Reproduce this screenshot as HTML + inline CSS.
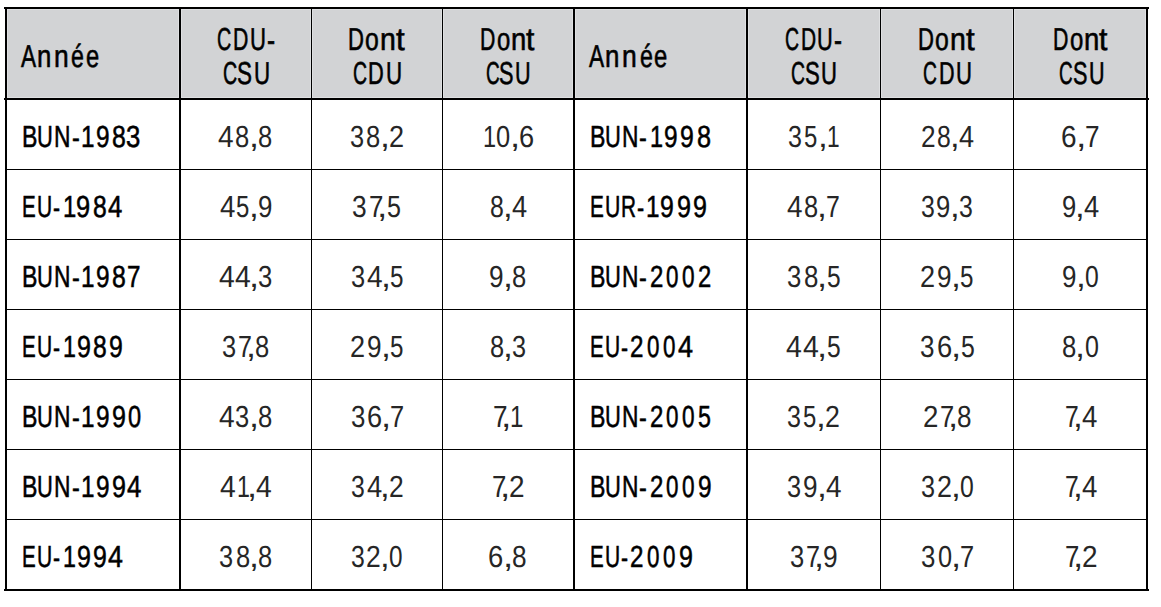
<!DOCTYPE html>
<html><head><meta charset="utf-8"><style>
html,body{margin:0;padding:0;background:#fff;width:1161px;height:607px;overflow:hidden}
body{position:relative;font-family:"Liberation Sans",sans-serif;color:#000;text-rendering:geometricPrecision}
.l{position:absolute;background:#000}
.hb{position:absolute;background:#d2d3d5}
.hl{position:absolute;background:#dfe0e2}
.t,.g{position:absolute;white-space:nowrap;line-height:40px;height:40px;transform-origin:0 0}
.lab{font-size:30.5px;-webkit-text-stroke:0.55px #000}
.num{font-size:30.5px;color:#262626}
.h{font-size:31.7px;-webkit-text-stroke:0.6px #000}
</style></head><body>
<div class="hb" style="left:7px;top:9px;width:1139px;height:89px"></div>
<div class="hl" style="left:7px;top:9px;width:1139px;height:1px"></div>
<div class="hl" style="left:7px;top:97px;width:1139px;height:1px"></div>
<div class="hl" style="left:7px;top:9px;width:1px;height:89px"></div>
<div class="hl" style="left:178px;top:9px;width:1px;height:89px"></div>
<div class="hl" style="left:181px;top:9px;width:1px;height:89px"></div>
<div class="hl" style="left:310px;top:9px;width:1px;height:89px"></div>
<div class="hl" style="left:312px;top:9px;width:1px;height:89px"></div>
<div class="hl" style="left:441px;top:9px;width:1px;height:89px"></div>
<div class="hl" style="left:443px;top:9px;width:1px;height:89px"></div>
<div class="hl" style="left:572px;top:9px;width:1px;height:89px"></div>
<div class="hl" style="left:575px;top:9px;width:1px;height:89px"></div>
<div class="hl" style="left:745px;top:9px;width:1px;height:89px"></div>
<div class="hl" style="left:748px;top:9px;width:1px;height:89px"></div>
<div class="hl" style="left:879px;top:9px;width:1px;height:89px"></div>
<div class="hl" style="left:881px;top:9px;width:1px;height:89px"></div>
<div class="hl" style="left:1012px;top:9px;width:1px;height:89px"></div>
<div class="hl" style="left:1014px;top:9px;width:1px;height:89px"></div>
<div class="hl" style="left:1145px;top:9px;width:1px;height:89px"></div>
<div class="l" style="left:4px;top:7px;width:1145px;height:2px"></div>
<div class="l" style="left:4px;top:98px;width:1145px;height:2px"></div>
<div class="l" style="left:5px;top:169px;width:1143px;height:1px"></div>
<div class="l" style="left:5px;top:239px;width:1143px;height:1px"></div>
<div class="l" style="left:5px;top:309px;width:1143px;height:1px"></div>
<div class="l" style="left:5px;top:379px;width:1143px;height:1px"></div>
<div class="l" style="left:5px;top:449px;width:1143px;height:1px"></div>
<div class="l" style="left:5px;top:519px;width:1143px;height:1px"></div>
<div class="l" style="left:4px;top:589px;width:1145px;height:2px"></div>
<div class="l" style="left:5px;top:9px;width:2px;height:580px"></div>
<div class="l" style="left:179px;top:9px;width:2px;height:580px"></div>
<div class="l" style="left:311px;top:9px;width:1px;height:580px"></div>
<div class="l" style="left:442px;top:9px;width:1px;height:580px"></div>
<div class="l" style="left:573px;top:9px;width:2px;height:580px"></div>
<div class="l" style="left:746px;top:9px;width:2px;height:580px"></div>
<div class="l" style="left:880px;top:9px;width:1px;height:580px"></div>
<div class="l" style="left:1013px;top:9px;width:1px;height:580px"></div>
<div class="l" style="left:1146px;top:9px;width:2px;height:580px"></div>
<div class="g h" style="left:21.23px;top:36.00px;transform:scaleX(0.7127)">A</div>
<div class="g h" style="left:37.21px;top:36.00px;transform:scaleX(0.8135)">n</div>
<div class="g h" style="left:53.63px;top:36.00px;transform:scaleX(0.8344)">n</div>
<div class="g h" style="left:71.41px;top:36.00px;transform:scaleX(0.7310)">é</div>
<div class="g h" style="left:86.15px;top:36.00px;transform:scaleX(0.7495)">e</div>
<div class="g h" style="left:217.29px;top:19.00px;transform:scaleX(0.6229)">C</div>
<div class="g h" style="left:233.02px;top:19.00px;transform:scaleX(0.6705)">D</div>
<div class="g h" style="left:249.53px;top:19.00px;transform:scaleX(0.6980)">U</div>
<div class="g h" style="left:267.11px;top:20.00px;transform:scaleX(0.7680)">-</div>
<div class="g h" style="left:222.89px;top:53.00px;transform:scaleX(0.6191)">C</div>
<div class="g h" style="left:237.10px;top:53.00px;transform:scaleX(0.7076)">S</div>
<div class="g h" style="left:253.76px;top:53.00px;transform:scaleX(0.7046)">U</div>
<div class="g h" style="left:348.13px;top:19.00px;transform:scaleX(0.6965)">D</div>
<div class="g h" style="left:365.15px;top:19.00px;transform:scaleX(0.7811)">o</div>
<div class="g h" style="left:380.12px;top:19.00px;transform:scaleX(0.8981)">n</div>
<div class="g h" style="left:396.02px;top:19.00px;transform:scaleX(0.9837)">t</div>
<div class="g h" style="left:352.59px;top:53.00px;transform:scaleX(0.6147)">C</div>
<div class="g h" style="left:368.45px;top:53.00px;transform:scaleX(0.6872)">D</div>
<div class="g h" style="left:386.25px;top:53.00px;transform:scaleX(0.7049)">U</div>
<div class="g h" style="left:480.28px;top:19.00px;transform:scaleX(0.6702)">D</div>
<div class="g h" style="left:496.65px;top:19.00px;transform:scaleX(0.7516)">o</div>
<div class="g h" style="left:511.06px;top:19.00px;transform:scaleX(0.8642)">n</div>
<div class="g h" style="left:526.36px;top:19.00px;transform:scaleX(0.9464)">t</div>
<div class="g h" style="left:485.61px;top:53.00px;transform:scaleX(0.5985)">C</div>
<div class="g h" style="left:499.35px;top:53.00px;transform:scaleX(0.6841)">S</div>
<div class="g h" style="left:515.45px;top:53.00px;transform:scaleX(0.6812)">U</div>
<div class="g h" style="left:589.33px;top:36.00px;transform:scaleX(0.7145)">A</div>
<div class="g h" style="left:605.35px;top:36.00px;transform:scaleX(0.8156)">n</div>
<div class="g h" style="left:621.82px;top:36.00px;transform:scaleX(0.8365)">n</div>
<div class="g h" style="left:639.64px;top:36.00px;transform:scaleX(0.7328)">é</div>
<div class="g h" style="left:654.42px;top:36.00px;transform:scaleX(0.7515)">e</div>
<div class="g h" style="left:785.20px;top:19.00px;transform:scaleX(0.6141)">C</div>
<div class="g h" style="left:800.71px;top:19.00px;transform:scaleX(0.6611)">D</div>
<div class="g h" style="left:816.99px;top:19.00px;transform:scaleX(0.6882)">U</div>
<div class="g h" style="left:834.32px;top:20.00px;transform:scaleX(0.7572)">-</div>
<div class="g h" style="left:790.60px;top:53.00px;transform:scaleX(0.6109)">C</div>
<div class="g h" style="left:804.62px;top:53.00px;transform:scaleX(0.6982)">S</div>
<div class="g h" style="left:821.06px;top:53.00px;transform:scaleX(0.6953)">U</div>
<div class="g h" style="left:918.13px;top:19.00px;transform:scaleX(0.6965)">D</div>
<div class="g h" style="left:935.15px;top:19.00px;transform:scaleX(0.7811)">o</div>
<div class="g h" style="left:950.12px;top:19.00px;transform:scaleX(0.8981)">n</div>
<div class="g h" style="left:966.02px;top:19.00px;transform:scaleX(0.9837)">t</div>
<div class="g h" style="left:923.10px;top:53.00px;transform:scaleX(0.6083)">C</div>
<div class="g h" style="left:938.79px;top:53.00px;transform:scaleX(0.6800)">D</div>
<div class="g h" style="left:956.41px;top:53.00px;transform:scaleX(0.6975)">U</div>
<div class="g h" style="left:1053.18px;top:19.00px;transform:scaleX(0.6727)">D</div>
<div class="g h" style="left:1069.61px;top:19.00px;transform:scaleX(0.7544)">o</div>
<div class="g h" style="left:1084.07px;top:19.00px;transform:scaleX(0.8674)">n</div>
<div class="g h" style="left:1099.43px;top:19.00px;transform:scaleX(0.9500)">t</div>
<div class="g h" style="left:1058.81px;top:53.00px;transform:scaleX(0.5971)">C</div>
<div class="g h" style="left:1072.52px;top:53.00px;transform:scaleX(0.6825)">S</div>
<div class="g h" style="left:1088.58px;top:53.00px;transform:scaleX(0.6796)">U</div>
<div class="g lab" style="left:21.71px;top:117.00px;transform:scaleX(0.7577)">B</div>
<div class="g lab" style="left:37.47px;top:117.00px;transform:scaleX(0.7182)">U</div>
<div class="g lab" style="left:54.04px;top:117.00px;transform:scaleX(0.7466)">N</div>
<div class="g lab" style="left:71.59px;top:118.00px;transform:scaleX(0.7680)">-</div>
<div class="g lab" style="left:81.48px;top:117.00px;transform:scaleX(0.7973)">1</div>
<div class="g lab" style="left:95.94px;top:117.00px;transform:scaleX(0.8002)">9</div>
<div class="g lab" style="left:111.86px;top:117.00px;transform:scaleX(0.8149)">8</div>
<div class="g lab" style="left:125.88px;top:117.00px;transform:scaleX(0.8445)">3</div>
<div class="g num" style="left:218.32px;top:117.00px;transform:scaleX(0.9201)">4</div>
<div class="g num" style="left:235.03px;top:117.00px;transform:scaleX(0.8390)">8</div>
<div class="g num" style="left:248.62px;top:117.00px;transform:scaleX(1.1757)">,</div>
<div class="g num" style="left:258.06px;top:117.00px;transform:scaleX(0.8390)">8</div>
<div class="g num" style="left:349.55px;top:117.00px;transform:scaleX(0.8324)">3</div>
<div class="g num" style="left:366.10px;top:117.00px;transform:scaleX(0.8374)">8</div>
<div class="g num" style="left:379.66px;top:117.00px;transform:scaleX(1.1734)">,</div>
<div class="g num" style="left:388.59px;top:117.00px;transform:scaleX(0.8887)">2</div>
<div class="g num" style="left:482.57px;top:117.00px;transform:scaleX(0.7694)">1</div>
<div class="g num" style="left:495.83px;top:117.00px;transform:scaleX(0.8338)">0</div>
<div class="g num" style="left:509.51px;top:117.00px;transform:scaleX(1.1966)">,</div>
<div class="g num" style="left:518.70px;top:117.00px;transform:scaleX(0.8924)">6</div>
<div class="g lab" style="left:589.61px;top:117.00px;transform:scaleX(0.7577)">B</div>
<div class="g lab" style="left:605.37px;top:117.00px;transform:scaleX(0.7182)">U</div>
<div class="g lab" style="left:621.94px;top:117.00px;transform:scaleX(0.7466)">N</div>
<div class="g lab" style="left:639.49px;top:118.00px;transform:scaleX(0.7680)">-</div>
<div class="g lab" style="left:649.64px;top:117.00px;transform:scaleX(0.7691)">1</div>
<div class="g lab" style="left:663.64px;top:117.00px;transform:scaleX(0.8002)">9</div>
<div class="g lab" style="left:679.92px;top:117.00px;transform:scaleX(0.8134)">9</div>
<div class="g lab" style="left:696.55px;top:117.00px;transform:scaleX(0.8281)">8</div>
<div class="g num" style="left:787.96px;top:117.00px;transform:scaleX(0.8223)">3</div>
<div class="g num" style="left:804.42px;top:117.00px;transform:scaleX(0.7837)">5</div>
<div class="g num" style="left:817.71px;top:117.00px;transform:scaleX(1.1592)">,</div>
<div class="g num" style="left:826.65px;top:117.00px;transform:scaleX(0.7453)">1</div>
<div class="g num" style="left:920.52px;top:117.00px;transform:scaleX(0.8601)">2</div>
<div class="g num" style="left:936.81px;top:117.00px;transform:scaleX(0.8105)">8</div>
<div class="g num" style="left:949.93px;top:117.00px;transform:scaleX(1.1357)">,</div>
<div class="g num" style="left:958.71px;top:117.00px;transform:scaleX(0.8889)">4</div>
<div class="g num" style="left:1060.90px;top:117.00px;transform:scaleX(0.9172)">6</div>
<div class="g num" style="left:1075.53px;top:117.00px;transform:scaleX(1.2298)">,</div>
<div class="g num" style="left:1084.76px;top:117.00px;transform:scaleX(0.8579)">7</div>
<div class="g lab" style="left:21.88px;top:187.00px;transform:scaleX(0.6750)">E</div>
<div class="g lab" style="left:36.83px;top:187.00px;transform:scaleX(0.6881)">U</div>
<div class="g lab" style="left:52.86px;top:188.00px;transform:scaleX(0.6960)">-</div>
<div class="g lab" style="left:62.51px;top:187.00px;transform:scaleX(0.7832)">1</div>
<div class="g lab" style="left:76.41px;top:187.00px;transform:scaleX(0.8332)">9</div>
<div class="g lab" style="left:93.36px;top:187.00px;transform:scaleX(0.8084)">8</div>
<div class="g lab" style="left:108.21px;top:187.00px;transform:scaleX(0.8429)">4</div>
<div class="g num" style="left:219.53px;top:187.00px;transform:scaleX(0.9079)">4</div>
<div class="g num" style="left:236.12px;top:187.00px;transform:scaleX(0.7842)">5</div>
<div class="g num" style="left:249.42px;top:187.00px;transform:scaleX(1.1600)">,</div>
<div class="g num" style="left:258.34px;top:187.00px;transform:scaleX(0.8472)">9</div>
<div class="g num" style="left:352.20px;top:187.00px;transform:scaleX(0.8639)">3</div>
<div class="g num" style="left:368.75px;top:187.00px;transform:scaleX(0.8494)">7</div>
<div class="g num" style="left:376.92px;top:187.00px;transform:scaleX(1.2178)">,</div>
<div class="g num" style="left:386.80px;top:187.00px;transform:scaleX(0.8233)">5</div>
<div class="g num" style="left:489.69px;top:187.00px;transform:scaleX(0.8154)">8</div>
<div class="g num" style="left:502.89px;top:187.00px;transform:scaleX(1.1425)">,</div>
<div class="g num" style="left:511.73px;top:187.00px;transform:scaleX(0.8942)">4</div>
<div class="g lab" style="left:589.77px;top:187.00px;transform:scaleX(0.6807)">E</div>
<div class="g lab" style="left:605.06px;top:187.00px;transform:scaleX(0.6963)">U</div>
<div class="g lab" style="left:620.77px;top:187.00px;transform:scaleX(0.6808)">R</div>
<div class="g lab" style="left:636.74px;top:188.00px;transform:scaleX(0.7080)">-</div>
<div class="g lab" style="left:645.58px;top:187.00px;transform:scaleX(0.7973)">1</div>
<div class="g lab" style="left:660.12px;top:187.00px;transform:scaleX(0.8134)">9</div>
<div class="g lab" style="left:676.71px;top:187.00px;transform:scaleX(0.8266)">9</div>
<div class="g lab" style="left:693.12px;top:187.00px;transform:scaleX(0.8200)">9</div>
<div class="g num" style="left:787.33px;top:187.00px;transform:scaleX(0.9148)">4</div>
<div class="g num" style="left:803.94px;top:187.00px;transform:scaleX(0.8341)">8</div>
<div class="g num" style="left:817.44px;top:187.00px;transform:scaleX(1.1688)">,</div>
<div class="g num" style="left:826.22px;top:187.00px;transform:scaleX(0.8153)">7</div>
<div class="g num" style="left:920.68px;top:187.00px;transform:scaleX(0.8146)">3</div>
<div class="g num" style="left:936.48px;top:187.00px;transform:scaleX(0.8387)">9</div>
<div class="g num" style="left:950.14px;top:187.00px;transform:scaleX(1.1483)">,</div>
<div class="g num" style="left:959.15px;top:187.00px;transform:scaleX(0.8146)">3</div>
<div class="g num" style="left:1061.70px;top:187.00px;transform:scaleX(0.8367)">9</div>
<div class="g num" style="left:1075.33px;top:187.00px;transform:scaleX(1.1457)">,</div>
<div class="g num" style="left:1084.19px;top:187.00px;transform:scaleX(0.8967)">4</div>
<div class="g lab" style="left:21.71px;top:257.00px;transform:scaleX(0.7577)">B</div>
<div class="g lab" style="left:37.47px;top:257.00px;transform:scaleX(0.7182)">U</div>
<div class="g lab" style="left:54.04px;top:257.00px;transform:scaleX(0.7466)">N</div>
<div class="g lab" style="left:71.59px;top:258.00px;transform:scaleX(0.7680)">-</div>
<div class="g lab" style="left:81.48px;top:257.00px;transform:scaleX(0.7973)">1</div>
<div class="g lab" style="left:95.94px;top:257.00px;transform:scaleX(0.8002)">9</div>
<div class="g lab" style="left:111.86px;top:257.00px;transform:scaleX(0.8149)">8</div>
<div class="g lab" style="left:126.93px;top:257.00px;transform:scaleX(0.7948)">7</div>
<div class="g num" style="left:218.52px;top:257.00px;transform:scaleX(0.9290)">4</div>
<div class="g num" style="left:235.04px;top:257.00px;transform:scaleX(0.9290)">4</div>
<div class="g num" style="left:249.10px;top:257.00px;transform:scaleX(1.1869)">,</div>
<div class="g num" style="left:258.41px;top:257.00px;transform:scaleX(0.8420)">3</div>
<div class="g num" style="left:350.65px;top:257.00px;transform:scaleX(0.8341)">3</div>
<div class="g num" style="left:366.89px;top:257.00px;transform:scaleX(0.9202)">4</div>
<div class="g num" style="left:380.82px;top:257.00px;transform:scaleX(1.1757)">,</div>
<div class="g num" style="left:390.36px;top:257.00px;transform:scaleX(0.7948)">5</div>
<div class="g num" style="left:488.57px;top:257.00px;transform:scaleX(0.8578)">9</div>
<div class="g num" style="left:502.54px;top:257.00px;transform:scaleX(1.1745)">,</div>
<div class="g num" style="left:511.97px;top:257.00px;transform:scaleX(0.8382)">8</div>
<div class="g lab" style="left:589.61px;top:257.00px;transform:scaleX(0.7577)">B</div>
<div class="g lab" style="left:605.37px;top:257.00px;transform:scaleX(0.7182)">U</div>
<div class="g lab" style="left:621.94px;top:257.00px;transform:scaleX(0.7466)">N</div>
<div class="g lab" style="left:639.49px;top:258.00px;transform:scaleX(0.7680)">-</div>
<div class="g lab" style="left:649.54px;top:257.00px;transform:scaleX(0.7880)">2</div>
<div class="g lab" style="left:665.89px;top:257.00px;transform:scaleX(0.7343)">0</div>
<div class="g lab" style="left:681.99px;top:257.00px;transform:scaleX(0.7408)">0</div>
<div class="g lab" style="left:697.55px;top:257.00px;transform:scaleX(0.7814)">2</div>
<div class="g num" style="left:786.73px;top:257.00px;transform:scaleX(0.8438)">3</div>
<div class="g num" style="left:803.51px;top:257.00px;transform:scaleX(0.8489)">8</div>
<div class="g num" style="left:817.26px;top:257.00px;transform:scaleX(1.1895)">,</div>
<div class="g num" style="left:826.91px;top:257.00px;transform:scaleX(0.8042)">5</div>
<div class="g num" style="left:920.47px;top:257.00px;transform:scaleX(0.8887)">2</div>
<div class="g num" style="left:936.90px;top:257.00px;transform:scaleX(0.8570)">9</div>
<div class="g num" style="left:950.86px;top:257.00px;transform:scaleX(1.1734)">,</div>
<div class="g num" style="left:960.38px;top:257.00px;transform:scaleX(0.7933)">5</div>
<div class="g num" style="left:1061.68px;top:257.00px;transform:scaleX(0.8493)">9</div>
<div class="g num" style="left:1075.51px;top:257.00px;transform:scaleX(1.1629)">,</div>
<div class="g num" style="left:1084.99px;top:257.00px;transform:scaleX(0.8103)">0</div>
<div class="g lab" style="left:21.88px;top:327.00px;transform:scaleX(0.6750)">E</div>
<div class="g lab" style="left:36.83px;top:327.00px;transform:scaleX(0.6881)">U</div>
<div class="g lab" style="left:52.86px;top:328.00px;transform:scaleX(0.6960)">-</div>
<div class="g lab" style="left:62.65px;top:327.00px;transform:scaleX(0.7620)">1</div>
<div class="g lab" style="left:76.82px;top:327.00px;transform:scaleX(0.8200)">9</div>
<div class="g lab" style="left:93.06px;top:327.00px;transform:scaleX(0.8084)">8</div>
<div class="g lab" style="left:108.62px;top:327.00px;transform:scaleX(0.8134)">9</div>
<div class="g num" style="left:222.05px;top:327.00px;transform:scaleX(0.8342)">3</div>
<div class="g num" style="left:238.02px;top:327.00px;transform:scaleX(0.8202)">7</div>
<div class="g num" style="left:245.91px;top:327.00px;transform:scaleX(1.1758)">,</div>
<div class="g num" style="left:255.35px;top:327.00px;transform:scaleX(0.8392)">8</div>
<div class="g num" style="left:350.47px;top:327.00px;transform:scaleX(0.8887)">2</div>
<div class="g num" style="left:366.90px;top:327.00px;transform:scaleX(0.8570)">9</div>
<div class="g num" style="left:380.86px;top:327.00px;transform:scaleX(1.1734)">,</div>
<div class="g num" style="left:390.38px;top:327.00px;transform:scaleX(0.7933)">5</div>
<div class="g num" style="left:489.67px;top:327.00px;transform:scaleX(0.8335)">8</div>
<div class="g num" style="left:503.17px;top:327.00px;transform:scaleX(1.1679)">,</div>
<div class="g num" style="left:512.32px;top:327.00px;transform:scaleX(0.8285)">3</div>
<div class="g lab" style="left:589.78px;top:327.00px;transform:scaleX(0.6750)">E</div>
<div class="g lab" style="left:604.73px;top:327.00px;transform:scaleX(0.6881)">U</div>
<div class="g lab" style="left:620.76px;top:328.00px;transform:scaleX(0.6960)">-</div>
<div class="g lab" style="left:630.24px;top:327.00px;transform:scaleX(0.7946)">2</div>
<div class="g lab" style="left:647.09px;top:327.00px;transform:scaleX(0.7343)">0</div>
<div class="g lab" style="left:663.19px;top:327.00px;transform:scaleX(0.7343)">0</div>
<div class="g lab" style="left:678.31px;top:327.00px;transform:scaleX(0.8854)">4</div>
<div class="g num" style="left:786.41px;top:327.00px;transform:scaleX(0.9343)">4</div>
<div class="g num" style="left:803.03px;top:327.00px;transform:scaleX(0.9343)">4</div>
<div class="g num" style="left:817.17px;top:327.00px;transform:scaleX(1.1938)">,</div>
<div class="g num" style="left:826.86px;top:327.00px;transform:scaleX(0.8071)">5</div>
<div class="g num" style="left:920.02px;top:327.00px;transform:scaleX(0.8536)">3</div>
<div class="g num" style="left:936.58px;top:327.00px;transform:scaleX(0.8974)">6</div>
<div class="g num" style="left:950.89px;top:327.00px;transform:scaleX(1.2032)">,</div>
<div class="g num" style="left:960.66px;top:327.00px;transform:scaleX(0.8135)">5</div>
<div class="g num" style="left:1061.56px;top:327.00px;transform:scaleX(0.8418)">8</div>
<div class="g num" style="left:1075.19px;top:327.00px;transform:scaleX(1.1795)">,</div>
<div class="g num" style="left:1084.80px;top:327.00px;transform:scaleX(0.8219)">0</div>
<div class="g lab" style="left:21.71px;top:397.00px;transform:scaleX(0.7577)">B</div>
<div class="g lab" style="left:37.47px;top:397.00px;transform:scaleX(0.7182)">U</div>
<div class="g lab" style="left:54.04px;top:397.00px;transform:scaleX(0.7466)">N</div>
<div class="g lab" style="left:71.59px;top:398.00px;transform:scaleX(0.7680)">-</div>
<div class="g lab" style="left:81.48px;top:397.00px;transform:scaleX(0.7973)">1</div>
<div class="g lab" style="left:95.94px;top:397.00px;transform:scaleX(0.8002)">9</div>
<div class="g lab" style="left:111.82px;top:397.00px;transform:scaleX(0.8200)">9</div>
<div class="g lab" style="left:128.06px;top:397.00px;transform:scaleX(0.7733)">0</div>
<div class="g num" style="left:218.52px;top:397.00px;transform:scaleX(0.9237)">4</div>
<div class="g num" style="left:235.07px;top:397.00px;transform:scaleX(0.8372)">3</div>
<div class="g num" style="left:248.93px;top:397.00px;transform:scaleX(1.1801)">,</div>
<div class="g num" style="left:258.40px;top:397.00px;transform:scaleX(0.8422)">8</div>
<div class="g num" style="left:350.63px;top:397.00px;transform:scaleX(0.8473)">3</div>
<div class="g num" style="left:367.07px;top:397.00px;transform:scaleX(0.8907)">6</div>
<div class="g num" style="left:381.28px;top:397.00px;transform:scaleX(1.1944)">,</div>
<div class="g num" style="left:390.24px;top:397.00px;transform:scaleX(0.8331)">7</div>
<div class="g num" style="left:492.60px;top:397.00px;transform:scaleX(0.8553)">7</div>
<div class="g num" style="left:500.83px;top:397.00px;transform:scaleX(1.2262)">,</div>
<div class="g num" style="left:510.28px;top:397.00px;transform:scaleX(0.7884)">1</div>
<div class="g lab" style="left:589.61px;top:397.00px;transform:scaleX(0.7577)">B</div>
<div class="g lab" style="left:605.37px;top:397.00px;transform:scaleX(0.7182)">U</div>
<div class="g lab" style="left:621.94px;top:397.00px;transform:scaleX(0.7466)">N</div>
<div class="g lab" style="left:639.49px;top:398.00px;transform:scaleX(0.7680)">-</div>
<div class="g lab" style="left:649.54px;top:397.00px;transform:scaleX(0.7880)">2</div>
<div class="g lab" style="left:665.89px;top:397.00px;transform:scaleX(0.7343)">0</div>
<div class="g lab" style="left:681.99px;top:397.00px;transform:scaleX(0.7408)">0</div>
<div class="g lab" style="left:698.11px;top:397.00px;transform:scaleX(0.7606)">5</div>
<div class="g num" style="left:786.77px;top:397.00px;transform:scaleX(0.8211)">3</div>
<div class="g num" style="left:803.20px;top:397.00px;transform:scaleX(0.7825)">5</div>
<div class="g num" style="left:816.47px;top:397.00px;transform:scaleX(1.1575)">,</div>
<div class="g num" style="left:825.27px;top:397.00px;transform:scaleX(0.8766)">2</div>
<div class="g num" style="left:922.94px;top:397.00px;transform:scaleX(0.9081)">2</div>
<div class="g num" style="left:939.52px;top:397.00px;transform:scaleX(0.8364)">7</div>
<div class="g num" style="left:947.56px;top:397.00px;transform:scaleX(1.1990)">,</div>
<div class="g num" style="left:957.19px;top:397.00px;transform:scaleX(0.8557)">8</div>
<div class="g num" style="left:1064.77px;top:397.00px;transform:scaleX(0.8086)">7</div>
<div class="g num" style="left:1072.55px;top:397.00px;transform:scaleX(1.1591)">,</div>
<div class="g num" style="left:1081.52px;top:397.00px;transform:scaleX(0.9072)">4</div>
<div class="g lab" style="left:21.71px;top:467.00px;transform:scaleX(0.7577)">B</div>
<div class="g lab" style="left:37.47px;top:467.00px;transform:scaleX(0.7182)">U</div>
<div class="g lab" style="left:54.04px;top:467.00px;transform:scaleX(0.7466)">N</div>
<div class="g lab" style="left:71.59px;top:468.00px;transform:scaleX(0.7680)">-</div>
<div class="g lab" style="left:81.48px;top:467.00px;transform:scaleX(0.7973)">1</div>
<div class="g lab" style="left:95.94px;top:467.00px;transform:scaleX(0.8002)">9</div>
<div class="g lab" style="left:111.82px;top:467.00px;transform:scaleX(0.8200)">9</div>
<div class="g lab" style="left:127.11px;top:467.00px;transform:scaleX(0.8490)">4</div>
<div class="g num" style="left:220.42px;top:467.00px;transform:scaleX(0.9285)">4</div>
<div class="g num" style="left:236.91px;top:467.00px;transform:scaleX(0.7628)">1</div>
<div class="g num" style="left:247.10px;top:467.00px;transform:scaleX(1.1864)">,</div>
<div class="g num" style="left:256.27px;top:467.00px;transform:scaleX(0.9285)">4</div>
<div class="g num" style="left:350.68px;top:467.00px;transform:scaleX(0.8130)">3</div>
<div class="g num" style="left:366.51px;top:467.00px;transform:scaleX(0.8970)">4</div>
<div class="g num" style="left:380.09px;top:467.00px;transform:scaleX(1.1461)">,</div>
<div class="g num" style="left:388.81px;top:467.00px;transform:scaleX(0.8680)">2</div>
<div class="g num" style="left:491.62px;top:467.00px;transform:scaleX(0.8446)">7</div>
<div class="g num" style="left:499.74px;top:467.00px;transform:scaleX(1.2107)">,</div>
<div class="g num" style="left:508.95px;top:467.00px;transform:scaleX(0.9170)">2</div>
<div class="g lab" style="left:589.61px;top:467.00px;transform:scaleX(0.7577)">B</div>
<div class="g lab" style="left:605.37px;top:467.00px;transform:scaleX(0.7182)">U</div>
<div class="g lab" style="left:621.94px;top:467.00px;transform:scaleX(0.7466)">N</div>
<div class="g lab" style="left:639.49px;top:468.00px;transform:scaleX(0.7680)">-</div>
<div class="g lab" style="left:649.54px;top:467.00px;transform:scaleX(0.7880)">2</div>
<div class="g lab" style="left:665.89px;top:467.00px;transform:scaleX(0.7343)">0</div>
<div class="g lab" style="left:681.99px;top:467.00px;transform:scaleX(0.7408)">0</div>
<div class="g lab" style="left:697.54px;top:467.00px;transform:scaleX(0.8002)">9</div>
<div class="g num" style="left:786.75px;top:467.00px;transform:scaleX(0.8309)">3</div>
<div class="g num" style="left:802.88px;top:467.00px;transform:scaleX(0.8554)">9</div>
<div class="g num" style="left:816.81px;top:467.00px;transform:scaleX(1.1712)">,</div>
<div class="g num" style="left:825.86px;top:467.00px;transform:scaleX(0.9167)">4</div>
<div class="g num" style="left:920.66px;top:467.00px;transform:scaleX(0.8268)">3</div>
<div class="g num" style="left:936.61px;top:467.00px;transform:scaleX(0.8826)">2</div>
<div class="g num" style="left:950.56px;top:467.00px;transform:scaleX(1.1654)">,</div>
<div class="g num" style="left:960.06px;top:467.00px;transform:scaleX(0.8121)">0</div>
<div class="g num" style="left:1064.77px;top:467.00px;transform:scaleX(0.8086)">7</div>
<div class="g num" style="left:1072.55px;top:467.00px;transform:scaleX(1.1591)">,</div>
<div class="g num" style="left:1081.52px;top:467.00px;transform:scaleX(0.9072)">4</div>
<div class="g lab" style="left:21.88px;top:537.00px;transform:scaleX(0.6750)">E</div>
<div class="g lab" style="left:36.83px;top:537.00px;transform:scaleX(0.6881)">U</div>
<div class="g lab" style="left:52.86px;top:538.00px;transform:scaleX(0.6960)">-</div>
<div class="g lab" style="left:62.65px;top:537.00px;transform:scaleX(0.7620)">1</div>
<div class="g lab" style="left:76.82px;top:537.00px;transform:scaleX(0.8200)">9</div>
<div class="g lab" style="left:93.02px;top:537.00px;transform:scaleX(0.8134)">9</div>
<div class="g lab" style="left:108.31px;top:537.00px;transform:scaleX(0.8793)">4</div>
<div class="g num" style="left:218.95px;top:537.00px;transform:scaleX(0.8324)">3</div>
<div class="g num" style="left:235.50px;top:537.00px;transform:scaleX(0.8374)">8</div>
<div class="g num" style="left:249.06px;top:537.00px;transform:scaleX(1.1734)">,</div>
<div class="g num" style="left:258.48px;top:537.00px;transform:scaleX(0.8374)">8</div>
<div class="g num" style="left:350.68px;top:537.00px;transform:scaleX(0.8123)">3</div>
<div class="g num" style="left:366.35px;top:537.00px;transform:scaleX(0.8671)">2</div>
<div class="g num" style="left:380.06px;top:537.00px;transform:scaleX(1.1450)">,</div>
<div class="g num" style="left:389.39px;top:537.00px;transform:scaleX(0.7978)">0</div>
<div class="g num" style="left:488.43px;top:537.00px;transform:scaleX(0.8982)">6</div>
<div class="g num" style="left:502.76px;top:537.00px;transform:scaleX(1.2044)">,</div>
<div class="g num" style="left:512.43px;top:537.00px;transform:scaleX(0.8596)">8</div>
<div class="g lab" style="left:589.78px;top:537.00px;transform:scaleX(0.6750)">E</div>
<div class="g lab" style="left:604.73px;top:537.00px;transform:scaleX(0.6881)">U</div>
<div class="g lab" style="left:620.76px;top:538.00px;transform:scaleX(0.6960)">-</div>
<div class="g lab" style="left:630.24px;top:537.00px;transform:scaleX(0.7946)">2</div>
<div class="g lab" style="left:647.09px;top:537.00px;transform:scaleX(0.7343)">0</div>
<div class="g lab" style="left:663.19px;top:537.00px;transform:scaleX(0.7343)">0</div>
<div class="g lab" style="left:678.62px;top:537.00px;transform:scaleX(0.8200)">9</div>
<div class="g num" style="left:789.84px;top:537.00px;transform:scaleX(0.8378)">3</div>
<div class="g num" style="left:805.89px;top:537.00px;transform:scaleX(0.8238)">7</div>
<div class="g num" style="left:813.81px;top:537.00px;transform:scaleX(1.1810)">,</div>
<div class="g num" style="left:822.89px;top:537.00px;transform:scaleX(0.8626)">9</div>
<div class="g num" style="left:920.63px;top:537.00px;transform:scaleX(0.8473)">3</div>
<div class="g num" style="left:937.62px;top:537.00px;transform:scaleX(0.8322)">0</div>
<div class="g num" style="left:951.28px;top:537.00px;transform:scaleX(1.1944)">,</div>
<div class="g num" style="left:960.24px;top:537.00px;transform:scaleX(0.8331)">7</div>
<div class="g num" style="left:1064.72px;top:537.00px;transform:scaleX(0.8446)">7</div>
<div class="g num" style="left:1072.84px;top:537.00px;transform:scaleX(1.2107)">,</div>
<div class="g num" style="left:1082.05px;top:537.00px;transform:scaleX(0.9170)">2</div>
</body></html>
